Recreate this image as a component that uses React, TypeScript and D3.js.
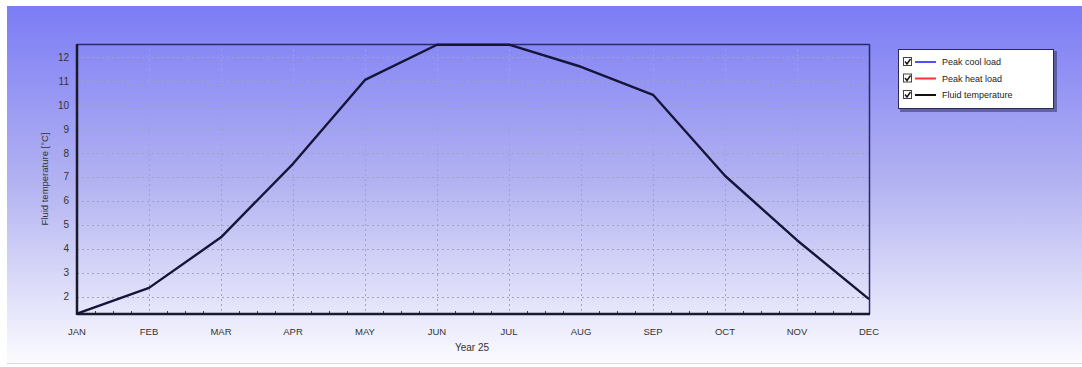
import React, { useEffect, useRef } from "react";
import * as d3 from "d3";

const months = ["JAN", "FEB", "MAR", "APR", "MAY", "JUN", "JUL", "AUG", "SEP", "OCT", "NOV", "DEC"];
const fluidTemp = [1.3, 2.37, 4.48, 7.55, 11.05, 12.52, 12.52, 11.6, 10.43, 7.05, 4.36, 1.9];
const yTicks = [2, 3, 4, 5, 6, 7, 8, 9, 10, 11, 12];
const legendItems = [
  { label: "Peak cool load", color: "#5050ff" },
  { label: "Peak heat load", color: "#ff3030" },
  { label: "Fluid temperature", color: "#111111" },
];

const App: React.FC = () => {
  const ref = useRef<SVGSVGElement | null>(null);

  useEffect(() => {
    if (!ref.current) return;
    const width = 1082;
    const height = 367;
    const svg = d3.select(ref.current);
    svg.selectAll("*").remove();
    svg.attr("width", width).attr("height", height);

    const plot = { left: 77, right: 869, top: 44, bottom: 314 };
    const font = "Arial, 'Liberation Sans', sans-serif";

    // background gradient
    const defs = svg.append("defs");
    const grad = defs.append("linearGradient").attr("id", "bg").attr("x1", 0).attr("y1", 0).attr("x2", 0).attr("y2", 1);
    grad.append("stop").attr("offset", "0%").attr("stop-color", "#7c7cf6");
    grad.append("stop").attr("offset", "50%").attr("stop-color", "#b3b3f2");
    grad.append("stop").attr("offset", "100%").attr("stop-color", "#fbfbff");

    svg.append("rect").attr("width", width).attr("height", height).attr("fill", "#ffffff");
    svg.append("rect").attr("x", 7).attr("y", 6).attr("width", width - 7).attr("height", 357).attr("fill", "url(#bg)");
    svg.append("line").attr("x1", 7).attr("x2", width).attr("y1", 363.5).attr("y2", 363.5).attr("stroke", "#d8d8e0");

    const x = d3.scalePoint<string>().domain(months).range([plot.left, plot.right]);
    const y = d3.scaleLinear().domain([1.28, 12.55]).range([plot.bottom, plot.top]);

    // grid (dotted)
    const g = svg.append("g");
    yTicks.forEach(t => {
      g.append("line")
        .attr("x1", plot.left).attr("x2", plot.right)
        .attr("y1", Math.round(y(t)) + 0.5).attr("y2", Math.round(y(t)) + 0.5)
        .attr("stroke", "#a4a4b8").attr("stroke-dasharray", "2,3").attr("stroke-width", 1);
    });
    months.forEach((m, i) => {
      if (i === 0 || i === months.length - 1) return;
      g.append("line")
        .attr("x1", Math.round(x(m)!) + 0.5).attr("x2", Math.round(x(m)!) + 0.5)
        .attr("y1", plot.top).attr("y2", plot.bottom)
        .attr("stroke", "#a4a4b8").attr("stroke-dasharray", "2,3").attr("stroke-width", 1);
    });

    // minor ticks on bottom axis
    const step = x.step();
    months.slice(0, -1).forEach(m => {
      for (let k = 1; k < 4; k++) {
        const xx = Math.round(x(m)! + (step * k) / 4) + 0.5;
        g.append("line").attr("x1", xx).attr("x2", xx).attr("y1", plot.bottom - 3).attr("y2", plot.bottom + 1)
          .attr("stroke", "#444");
      }
    });

    // frame
    svg.append("line").attr("x1", plot.left).attr("x2", plot.right).attr("y1", plot.top + 0.5).attr("y2", plot.top + 0.5)
      .attr("stroke", "#2a2a6a").attr("stroke-width", 1.5);
    svg.append("line").attr("x1", plot.right + 0.5).attr("x2", plot.right + 0.5).attr("y1", plot.top).attr("y2", plot.bottom)
      .attr("stroke", "#2a2a6a").attr("stroke-width", 1.5);
    svg.append("line").attr("x1", plot.left).attr("x2", plot.left).attr("y1", plot.top).attr("y2", plot.bottom + 1)
      .attr("stroke", "#1a1a2a").attr("stroke-width", 2.5);
    svg.append("line").attr("x1", plot.left).attr("x2", plot.right + 1).attr("y1", plot.bottom).attr("y2", plot.bottom)
      .attr("stroke", "#1a1a2a").attr("stroke-width", 2.5);

    // series line
    const line = d3.line<number>()
      .x((_, i) => x(months[i])!)
      .y(d => y(d));
    svg.append("path")
      .attr("d", line(fluidTemp) || "")
      .attr("fill", "none")
      .attr("stroke", "#15153a")
      .attr("stroke-width", 2.4)
      .attr("stroke-linejoin", "round");

    // tick labels
    yTicks.forEach(t => {
      svg.append("text")
        .attr("x", 69).attr("y", y(t) + 3.5)
        .attr("text-anchor", "end").attr("font-family", font).attr("font-size", 10)
        .attr("fill", "#333").text(t);
    });
    months.forEach(m => {
      svg.append("text")
        .attr("x", x(m)!).attr("y", 335)
        .attr("text-anchor", "middle").attr("font-family", font).attr("font-size", 9.5)
        .attr("fill", "#333").text(m);
    });

    // axis titles
    svg.append("text")
      .attr("transform", `translate(48,${(plot.top + plot.bottom) / 2}) rotate(-90)`)
      .attr("text-anchor", "middle").attr("font-family", font).attr("font-size", 9.5)
      .attr("fill", "#333").text("Fluid temperature [°C]");
    svg.append("text")
      .attr("x", 472).attr("y", 351)
      .attr("text-anchor", "middle").attr("font-family", font).attr("font-size", 10)
      .attr("fill", "#333").text("Year 25");

    // legend
    const lg = svg.append("g").attr("transform", "translate(898,49)");
    lg.append("rect").attr("x", 2).attr("y", 2).attr("width", 157).attr("height", 61).attr("fill", "#3a3a70").attr("opacity", 0.6);
    lg.append("rect").attr("x", 0.5).attr("y", 0.5).attr("width", 155).attr("height", 59).attr("fill", "#ffffff")
      .attr("stroke", "#2a2a55");
    legendItems.forEach((d, i) => {
      const yy = 13 + i * 16.5;
      lg.append("rect").attr("x", 5.5).attr("y", yy - 4.5).attr("width", 8).attr("height", 8)
        .attr("fill", "#fff").attr("stroke", "#444");
      lg.append("path").attr("d", `M7,${yy - 0.5} L9,${yy + 2} L12.5,${yy - 3}`)
        .attr("fill", "none").attr("stroke", "#111").attr("stroke-width", 1.4);
      lg.append("line").attr("x1", 17).attr("x2", 38).attr("y1", yy).attr("y2", yy)
        .attr("stroke", d.color).attr("stroke-width", 2);
      lg.append("text").attr("x", 44).attr("y", yy + 3).attr("font-family", font).attr("font-size", 9)
        .attr("fill", "#222").text(d.label);
    });
  }, []);

  return <svg ref={ref} style={{ position: "absolute", left: 0, top: 0, display: "block" }} />;
};

export default App;
